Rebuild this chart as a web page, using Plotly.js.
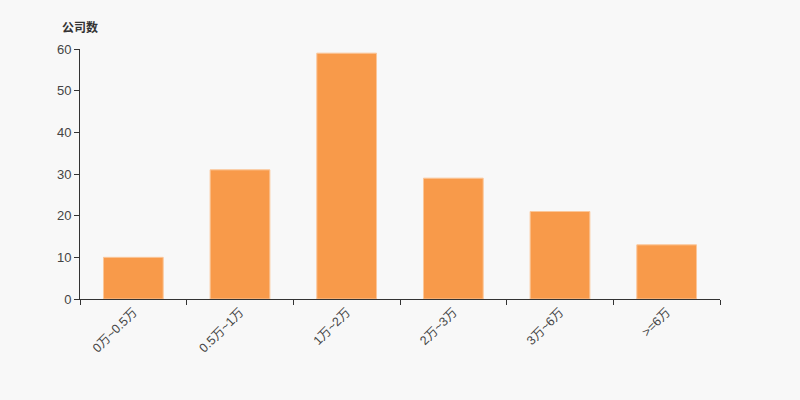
<!DOCTYPE html>
<html>
<head>
<meta charset="utf-8">
<script src="https://cdn.plot.ly/plotly-3.0.1.min.js"></script>
<style>html,body{margin:0;padding:0;background:#f8f8f8;}#chart{width:800px;height:400px;}</style>
</head>
<body>
<div id="chart"></div>
<script>
const categories = ["0万~0.5万", "0.5万~1万", "1万~2万", "2万~3万", "3万~6万", ">=6万"];
const companyCounts = [10, 31, 59, 29, 21, 13];
const yTitle = "公司数";

const font = "'Liberation Sans', Arial, 'Noto Sans CJK SC', sans-serif";
const trace = {
  type: "bar",
  x: categories,
  y: companyCounts,
  width: 0.56,
  marker: {color: "#f89a4a", line: {color: "#fbc79a", width: 1}},
  hoverinfo: "x+y"
};
const layout = {
  width: 800, height: 400,
  paper_bgcolor: "#f8f8f8", plot_bgcolor: "#f8f8f8",
  margin: {l: 80, r: 80, t: 49, b: 101},
  showlegend: false,
  font: {family: font, size: 12, color: "#444"},
  xaxis: {
    type: "category",
    tickson: "boundaries",
    ticks: "outside", ticklen: 5, tickcolor: "#333",
    showline: true, linecolor: "#333", linewidth: 1,
    showgrid: false, zeroline: false,
    tickangle: -45,
    tickfont: {family: font, size: 12.5, color: "#444"}
  },
  yaxis: {
    range: [0, 60], dtick: 10,
    ticks: "outside", ticklen: 5, tickcolor: "#333",
    showline: true, linecolor: "#333", linewidth: 1,
    showgrid: false, zeroline: false,
    tickfont: {family: font, size: 13, color: "#444"}
  },
  annotations: [{
    text: "<b>" + yTitle + "</b>",
    xref: "paper", yref: "paper", x: 0, y: 1.088,
    xanchor: "center", yanchor: "middle", showarrow: false,
    font: {family: "'Noto Sans CJK SC', sans-serif", size: 12, color: "#333"}
  }]
};
Plotly.newPlot("chart", [trace], layout, {displayModeBar: false, staticPlot: true});
</script>
</body>
</html>
